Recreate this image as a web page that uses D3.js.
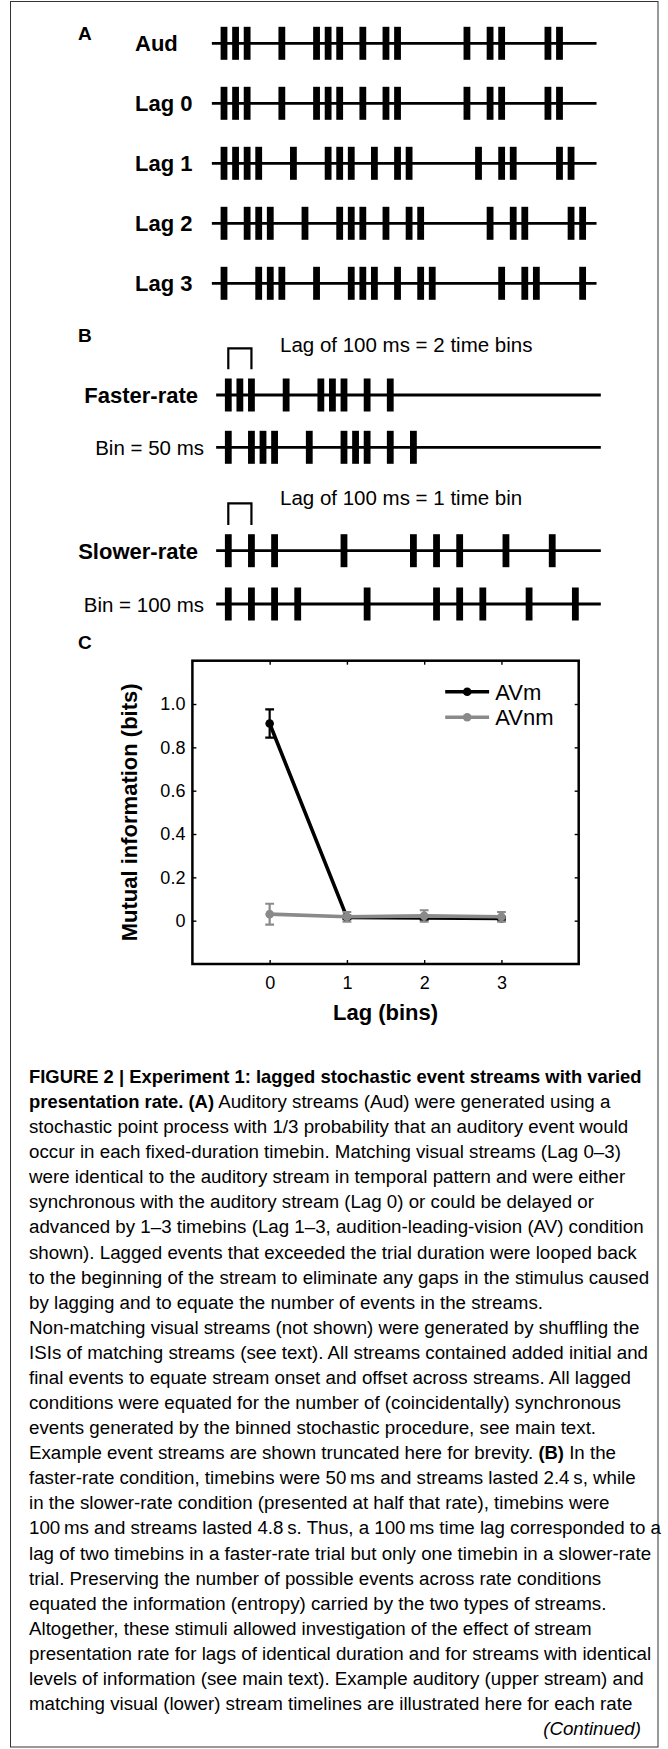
<!DOCTYPE html>
<html>
<head>
<meta charset="utf-8">
<script src="https://cdn.jsdelivr.net/npm/d3@7"></script>
<style>
  html, body { margin: 0; padding: 0; background: #fff; }
  svg { display: block; }
  text { font-family: "Liberation Sans", Arial, Helvetica, sans-serif; fill: #000; white-space: pre; }
</style>
</head>
<body>
<svg id="fig" width="668" height="1749"></svg>
<script>
// ---- panel A: event time bins of each stream ----
const rowsA = ['Aud', 'Lag 0', 'Lag 1', 'Lag 2', 'Lag 3'];
const audBins  = [0, 1, 2, 5, 8, 9, 10, 12, 14, 15, 21, 23, 24, 28, 29];
const lag0Bins = [0, 1, 2, 5, 8, 9, 10, 12, 14, 15, 21, 23, 24, 28, 29];
const lag1Bins = [0, 1, 2, 3, 6, 9, 10, 11, 13, 15, 16, 22, 24, 25, 29, 30];
const lag2Bins = [0, 2, 3, 4, 7, 10, 11, 12, 14, 16, 17, 23, 25, 26, 30, 31];
const lag3Bins = [0, 3, 4, 5, 8, 11, 12, 13, 15, 17, 18, 24, 26, 27, 31];
const streamExtent = [-1.05, 32.2];

// ---- panel B: events in 50 ms units ----
const rowsB = ['Faster-rate', 'Bin = 50 ms', 'Slower-rate', 'Bin = 100 ms'];
const fasterAudBins = [0, 1, 2, 5, 8, 9, 10, 12, 14];
const fasterVisBins = [0, 2, 3, 4, 7, 10, 11, 12, 14, 16];
const slowerAudBins = [0, 2, 4, 10, 16, 18, 20, 24, 28];
const slowerVisBins = [0, 2, 4, 6, 12, 18, 20, 22, 26, 30];
const lagNotes = ['Lag of 100 ms = 2 time bins', 'Lag of 100 ms = 1 time bin'];
const lagBracket = [0, 2];

// ---- panel C: mutual information by lag ----
const lags = [0, 1, 2, 3];
const avmMean  = [0.91, 0.015, 0.012, 0.01];
const avmErr   = [0.065, 0.008, 0.008, 0.008];
const avnmMean = [0.03, 0.018, 0.022, 0.018];
const avnmErr  = [0.048, 0.022, 0.026, 0.022];
const yTicks = [0, 0.2, 0.4, 0.6, 0.8, 1.0];
const seriesNames = ['AVm', 'AVnm'];
const seriesColors = ['#000', '#8a8a8a'];

// ---- caption ----
const captionLines = [
  [['FIGURE 2 | Experiment 1: lagged stochastic event streams with varied', 'b']],
  [['presentation rate. (A)', 'b'], [' Auditory streams (Aud) were generated using a', 'r']],
  [['stochastic point process with 1/3 probability that an auditory event would', 'r']],
  [['occur in each fixed-duration timebin. Matching visual streams (Lag 0–3)', 'r']],
  [['were identical to the auditory stream in temporal pattern and were either', 'r']],
  [['synchronous with the auditory stream (Lag 0) or could be delayed or', 'r']],
  [['advanced by 1–3 timebins (Lag 1–3, audition-leading-vision (AV) condition', 'r']],
  [['shown). Lagged events that exceeded the trial duration were looped back', 'r']],
  [['to the beginning of the stream to eliminate any gaps in the stimulus caused', 'r']],
  [['by lagging and to equate the number of events in the streams.', 'r']],
  [['Non-matching visual streams (not shown) were generated by shuffling the', 'r']],
  [['ISIs of matching streams (see text). All streams contained added initial and', 'r']],
  [['final events to equate stream onset and offset across streams. All lagged', 'r']],
  [['conditions were equated for the number of (coincidentally) synchronous', 'r']],
  [['events generated by the binned stochastic procedure, see main text.', 'r']],
  [['Example event streams are shown truncated here for brevity. ', 'r'], ['(B)', 'b'], [' In the', 'r']],
  [['faster-rate condition, timebins were 50\u2009ms and streams lasted 2.4\u2009s, while', 'r']],
  [['in the slower-rate condition (presented at half that rate), timebins were', 'r']],
  [['100\u2009ms and streams lasted 4.8\u2009s. Thus, a 100\u2009ms time lag corresponded to a', 'r']],
  [['lag of two timebins in a faster-rate trial but only one timebin in a slower-rate', 'r']],
  [['trial. Preserving the number of possible events across rate conditions', 'r']],
  [['equated the information (entropy) carried by the two types of streams.', 'r']],
  [['Altogether, these stimuli allowed investigation of the effect of stream', 'r']],
  [['presentation rate for lags of identical duration and for streams with identical', 'r']],
  [['levels of information (see main text). Example auditory (upper stream) and', 'r']],
  [['matching visual (lower) stream timelines are illustrated here for each rate', 'r']]
];
const continuedNote = '(Continued)';

const svg = d3.select('#fig');

// outer frame
svg.append('rect')
  .attr('x', 10.5).attr('y', 1.5)
  .attr('width', 647.5).attr('height', 1745.5)
  .attr('fill', 'none').attr('stroke', '#333').attr('stroke-width', 1);

const panelLetter = (label, y) => svg.append('text')
  .attr('x', 78).attr('y', y)
  .attr('font-size', 19).attr('font-weight', 'bold')
  .text(label);

const drawStream = (g, x, y, bins, extent) => {
  g.append('line')
    .attr('x1', x(extent[0])).attr('x2', x(extent[1]))
    .attr('y1', y).attr('y2', y)
    .attr('stroke', '#000').attr('stroke-width', 2.8);
  g.selectAll(null)
    .data(bins)
    .enter()
    .append('rect')
    .attr('x', d => x(d) - 3.4)
    .attr('y', y - 16.5)
    .attr('width', 6.8)
    .attr('height', 33)
    .attr('fill', '#000');
};

// ---- A ----
panelLetter('A', 40);
const xA = d3.scaleLinear().domain([0, 32]).range([224, 594.2]);
const yA = d3.scalePoint().domain(rowsA).range([43.3, 283.3]);
const eventsA = [audBins, lag0Bins, lag1Bins, lag2Bins, lag3Bins];
const gA = svg.append('g');
rowsA.forEach((row, i) => {
  gA.append('text')
    .attr('x', 135).attr('y', yA(row) + 8)
    .attr('font-size', 22).attr('font-weight', 'bold')
    .text(row);
  drawStream(gA, xA, yA(row), eventsA[i], streamExtent);
});

// ---- B ----
panelLetter('B', 342);
const xB = d3.scaleLinear().domain([0, 32]).range([228.3, 598.5]);
const yB = d3.scaleOrdinal().domain(rowsB).range([395, 447.3, 550.7, 604]);
const eventsB = [fasterAudBins, fasterVisBins, slowerAudBins, slowerVisBins];
const gB = svg.append('g');
rowsB.forEach((row, i) => {
  const bold = i % 2 === 0;
  gB.append('text')
    .attr('x', bold ? 198 : 204).attr('y', yB(row) + 8)
    .attr('text-anchor', 'end')
    .attr('font-size', bold ? 22 : 20.5)
    .attr('font-weight', bold ? 'bold' : 'normal')
    .text(row);
  drawStream(gB, xB, yB(row), eventsB[i], streamExtent);
});
[[351.7, 348.3, 369.3], [505, 503.3, 525]].forEach(([ty, top, bottom], i) => {
  gB.append('text')
    .attr('x', 280).attr('y', ty)
    .attr('font-size', 20.5)
    .text(lagNotes[i]);
  gB.append('path')
    .attr('d', `M${xB(lagBracket[0])},${bottom}V${top}H${xB(lagBracket[1])}V${bottom}`)
    .attr('fill', 'none').attr('stroke', '#000').attr('stroke-width', 2.2);
});

// ---- C ----
panelLetter('C', 649);
const x = d3.scaleLinear().domain([-1, 4]).range([192.4, 578.7]);
const y = d3.scaleLinear().domain([-0.2, 1.2]).range([964, 660.7]);
const gC = svg.append('g');

const styleAxis = (g) => {
  g.select('.domain').remove();
  g.selectAll('.tick line').attr('stroke', '#000').attr('stroke-width', 1.4);
  g.selectAll('.tick text').attr('font-size', 18)
    .attr('font-family', '"Liberation Sans", Arial, sans-serif');
};

gC.append('g')
  .attr('transform', `translate(0,${y.range()[0]})`)
  .call(d3.axisBottom(x).tickValues(lags).tickSize(-4).tickPadding(12.5).tickFormat(d3.format('d')))
  .call(styleAxis);
gC.append('g')
  .attr('transform', `translate(0,${y.range()[1]})`)
  .call(d3.axisTop(x).tickValues(lags).tickSize(-4).tickFormat(''))
  .call(styleAxis);
gC.append('g')
  .attr('transform', `translate(${x.range()[0]},0)`)
  .call(d3.axisLeft(y).tickValues(yTicks).tickSize(-4).tickPadding(7)
    .tickFormat(d => d === 0 ? '0' : d3.format('.1f')(d)))
  .call(styleAxis);
gC.append('g')
  .attr('transform', `translate(${x.range()[1]},0)`)
  .call(d3.axisRight(y).tickValues(yTicks).tickSize(-4).tickFormat(''))
  .call(styleAxis);

gC.append('rect')
  .attr('x', x.range()[0]).attr('y', y.range()[1])
  .attr('width', x.range()[1] - x.range()[0])
  .attr('height', y.range()[0] - y.range()[1])
  .attr('fill', 'none').attr('stroke', '#000').attr('stroke-width', 2.5);

const series = [
  { mean: avmMean, err: avmErr },
  { mean: avnmMean, err: avnmErr }
];
series.forEach(({ mean, err }, si) => {
  const color = seriesColors[si];
  const pts = lags.map((l, i) => ({ l, m: mean[i], e: err[i] }));
  const g = gC.append('g');
  g.append('path')
    .datum(pts)
    .attr('d', d3.line().x(d => x(d.l)).y(d => y(d.m)))
    .attr('fill', 'none').attr('stroke', color).attr('stroke-width', 3.6)
    .attr('stroke-linejoin', 'round');
  const eb = g.selectAll(null).data(pts).enter().append('g');
  eb.append('path')
    .attr('d', d => {
      const cx = x(d.l), t = y(d.m + d.e), b = y(d.m - d.e);
      return `M${cx - 4.4},${t}H${cx + 4.4}M${cx},${t}V${b}M${cx - 4.4},${b}H${cx + 4.4}`;
    })
    .attr('fill', 'none').attr('stroke', color).attr('stroke-width', 2.2);
  eb.append('circle')
    .attr('cx', d => x(d.l)).attr('cy', d => y(d.m))
    .attr('r', 4.3).attr('fill', color);
});

// legend
const legend = gC.append('g');
seriesNames.forEach((name, i) => {
  const ly = [691.7, 717.3][i];
  legend.append('line')
    .attr('x1', 445.2).attr('x2', 489.1).attr('y1', ly).attr('y2', ly)
    .attr('stroke', seriesColors[i]).attr('stroke-width', 3.6);
  legend.append('circle')
    .attr('cx', 467.2).attr('cy', ly).attr('r', 4.3).attr('fill', seriesColors[i]);
  legend.append('text')
    .attr('x', 495.2).attr('y', ly + 8)
    .attr('font-size', 22)
    .text(name);
});

// axis titles
gC.append('text')
  .attr('transform', `translate(136.5,${(y.range()[0] + y.range()[1]) / 2}) rotate(-90)`)
  .attr('text-anchor', 'middle')
  .attr('font-size', 22).attr('font-weight', 'bold')
  .text('Mutual information (bits)');
gC.append('text')
  .attr('x', (x.range()[0] + x.range()[1]) / 2).attr('y', 1020)
  .attr('text-anchor', 'middle')
  .attr('font-size', 22).attr('font-weight', 'bold')
  .text('Lag (bins)');

// ---- caption ----
const cap = svg.append('g');
const capLines = cap.selectAll(null)
  .data(captionLines)
  .enter()
  .append('text')
  .attr('x', 0)
  .attr('y', (d, i) => 1083 + i * 25.08)
  .attr('font-size', 18)
  .attr('fill', '#111');
capLines.selectAll('tspan')
  .data(d => d)
  .enter()
  .append('tspan')
  .attr('font-weight', d => d[1] === 'b' ? 'bold' : 'normal')
  .attr('font-size', d => d[1] === 'b' ? 17.7 : 18)
  .text(d => d[0]);

const refWidth = capLines.nodes()[2].getComputedTextLength();
const squeeze = 599.4 / refWidth;
cap.attr('transform', `translate(29,0) scale(${squeeze},1)`);
cap.append('text')
  .attr('x', (641 - 29) / squeeze)
  .attr('y', 1083 + captionLines.length * 25.08)
  .attr('text-anchor', 'end')
  .attr('font-size', 18)
  .attr('font-style', 'italic')
  .attr('fill', '#111')
  .text(continuedNote);
</script>
</body>
</html>
